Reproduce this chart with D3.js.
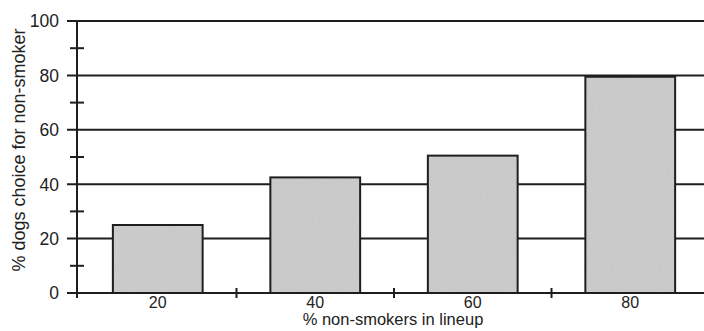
<!DOCTYPE html>
<html><head><meta charset="utf-8">
<script src="https://cdn.jsdelivr.net/npm/d3@7"></script>
<style>body{margin:0;background:#fff}svg{display:block}text{font-family:"Liberation Sans",Arial,sans-serif;fill:#222}</style>
</head><body><svg id="c" width="704" height="331"></svg>
<script>
const categories = ["20","40","60","80"];
const values = [25, 42.5, 50.5, 79.5];
const yTicks = [0,20,40,60,80,100];
const yMinor = [10,30,50,70,90];
const xTitle = "% non-smokers in lineup";
const yTitle = "% dogs choice for non-smoker";

const svg = d3.select("#c");
const x = d3.scaleBand().domain(categories).range([79, 709]).paddingInner(0.43).paddingOuter(0.215);
const y = d3.scaleLinear().domain([0,100]).range([293, 21]);
const ink = "#1e1e1e";

// defs: noisy gray texture
const defs = svg.append("defs");
const f = defs.append("filter").attr("id","noise").attr("x",0).attr("y",0).attr("width","100%").attr("height","100%");
f.append("feTurbulence").attr("type","fractalNoise").attr("baseFrequency",0.9).attr("numOctaves",2).attr("seed",3).attr("result","n");
f.append("feColorMatrix").attr("in","n").attr("type","matrix")
 .attr("values","0 0 0 0 0.72  0 0 0 0 0.72  0 0 0 0 0.72  0.7 0 0 0 -0.25").attr("result","g");
f.append("feComposite").attr("in","g").attr("in2","SourceGraphic").attr("operator","in").attr("result","c");
f.append("feMerge").call(m=>{m.append("feMergeNode").attr("in","SourceGraphic");m.append("feMergeNode").attr("in","c");});

// gridlines
svg.append("g").selectAll("line").data(yTicks).join("line")
  .attr("x1",67).attr("x2",704).attr("y1",d=>y(d)).attr("y2",d=>y(d))
  .attr("stroke",ink).attr("stroke-width",2);

// minor ticks
svg.append("g").selectAll("line").data(yMinor).join("line")
  .attr("x1",70).attr("x2",84).attr("y1",d=>y(d)).attr("y2",d=>y(d))
  .attr("stroke",ink).attr("stroke-width",2);

// y axis line
svg.append("line").attr("x1",77).attr("x2",77).attr("y1",y(100)-1).attr("y2",y(0)+5)
  .attr("stroke",ink).attr("stroke-width",2);

// x ticks between bars
const step = x.step();
const seps = categories.slice(0,-1).map(c => x(c) + x.bandwidth()/2 + step/2);
svg.append("g").selectAll("line").data(seps).join("line")
  .attr("x1",d=>d).attr("x2",d=>d).attr("y1",y(0)-5).attr("y2",y(0)+5)
  .attr("stroke",ink).attr("stroke-width",2);

// bars
svg.append("g").selectAll("rect").data(values).join("rect")
  .attr("x",(d,i)=>x(categories[i])).attr("width",x.bandwidth())
  .attr("y",d=>y(d)).attr("height",d=>y(0)-y(d))
  .attr("fill","#c8c8c8").attr("filter","url(#noise)");
svg.append("g").selectAll("rect").data(values).join("rect")
  .attr("x",(d,i)=>x(categories[i])).attr("width",x.bandwidth())
  .attr("y",d=>y(d)).attr("height",d=>y(0)-y(d))
  .attr("fill","none").attr("stroke",ink).attr("stroke-width",2);

// y tick labels
svg.append("g").selectAll("text").data(yTicks).join("text")
  .attr("x",59).attr("y",d=>y(d)).attr("dy","0.36em").attr("text-anchor","end")
  .attr("font-size",17.5).text(d=>d);

// x tick labels
svg.append("g").selectAll("text").data(categories).join("text")
  .attr("x",d=>x(d)+x.bandwidth()/2).attr("y",308).attr("text-anchor","middle")
  .attr("font-size",16).text(d=>d);

// titles
svg.append("text").attr("x",393).attr("y",325).attr("text-anchor","middle").attr("font-size",16.5).text(xTitle);
svg.append("text").attr("transform","translate(25,150) rotate(-90)").attr("text-anchor","middle").attr("font-size",18).text(yTitle);
</script></body></html>
